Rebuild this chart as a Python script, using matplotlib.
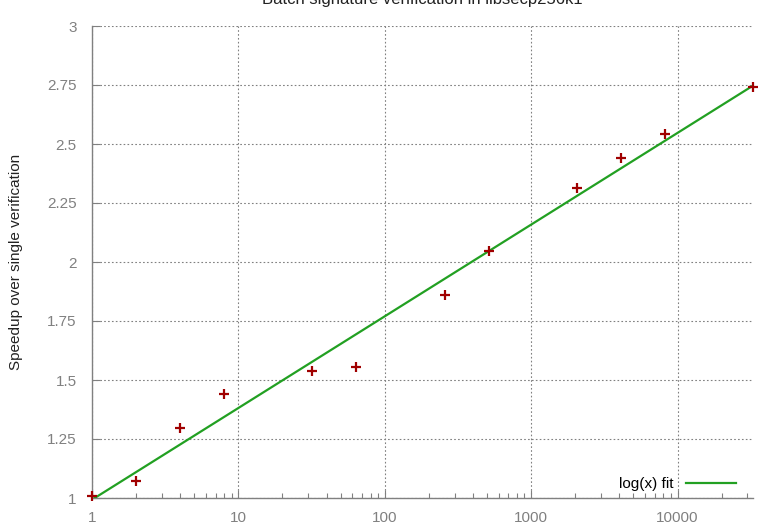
import matplotlib
matplotlib.use('Agg')
import matplotlib.pyplot as plt
from matplotlib.ticker import LogLocator, NullFormatter, FixedLocator
import numpy as np

# batch sizes and measured speedup
batch_sizes = [1, 2, 4, 8, 32, 64, 256, 512, 2048, 4096, 8192, 32768]
speedup = [1.01, 1.072, 1.297, 1.44, 1.538, 1.555, 1.86, 2.047, 2.314,
           2.44, 2.542, 2.741]

x_ticks = [1, 10, 100, 1000, 10000]
x_labels = ['1', '10', '100', '1000', '10000']
y_ticks = [1, 1.25, 1.5, 1.75, 2, 2.25, 2.5, 2.75, 3]
y_labels = ['1', '1.25', '1.5', '1.75', '2', '2.25', '2.5', '2.75', '3']

TITLE = 'Batch signature verification in libsecp256k1'
YLABEL = 'Speedup over single verification'
FIT_LABEL = 'log(x) fit'

plt.rcParams['font.family'] = ['Liberation Sans', 'DejaVu Sans']

GRAY = '#808080'
fig = plt.figure(figsize=(7.83, 5.27), dpi=100)
ax = fig.add_axes([92 / 783, 1 - 498 / 527, (753 - 92) / 783, (498 - 26) / 527])

# least squares fit y = a + b*log(x)
b, a = np.polyfit(np.log(batch_sizes), speedup, 1)
xs = np.logspace(0, np.log10(max(batch_sizes)), 200)
ax.plot(xs, a + b * np.log(xs), color='#22a022', lw=1.6, label=FIT_LABEL,
        zorder=3)
ax.plot(batch_sizes, speedup, linestyle='', marker='+', color='#a00000',
        markersize=7, markeredgewidth=1.6, zorder=4, clip_on=False)

ax.set_xscale('log')
ax.set_xlim(1, 32768)
ax.set_ylim(1, 3)
ax.xaxis.set_major_locator(FixedLocator(x_ticks))
ax.set_xticklabels(x_labels)
ax.xaxis.set_minor_locator(LogLocator(base=10, subs=np.arange(2, 10)))
ax.xaxis.set_minor_formatter(NullFormatter())
ax.set_yticks(y_ticks)
ax.set_yticklabels(y_labels)

ax.grid(True, which='major', color=GRAY, linestyle=(0, (1.5, 2)), lw=0.8)
for side in ['top', 'right']:
    ax.spines[side].set_visible(False)
for side in ['left', 'bottom']:
    ax.spines[side].set_color(GRAY)
    ax.spines[side].set_linewidth(1.0)

ax.tick_params(axis='both', which='major', direction='in', length=6,
               width=0.8, color=GRAY, labelcolor=GRAY, labelsize=11, pad=9)
ax.tick_params(axis='x', which='minor', direction='in', length=3.5,
               width=0.8, color=GRAY)
ax.tick_params(axis='y', which='major', pad=11)

ax.set_ylabel(YLABEL, fontsize=11, color='#222222', labelpad=17)
fig.text(422 / 783, 1 - 4 / 527, TITLE, ha='center', va='baseline',
         fontsize=12, color='#222222')

leg = ax.legend(loc='lower right', frameon=False, fontsize=11,
                handlelength=3.3, handletextpad=0.8, markerfirst=False,
                bbox_to_anchor=(0.995, -0.015))

fig.savefig('out.png', dpi=100)
